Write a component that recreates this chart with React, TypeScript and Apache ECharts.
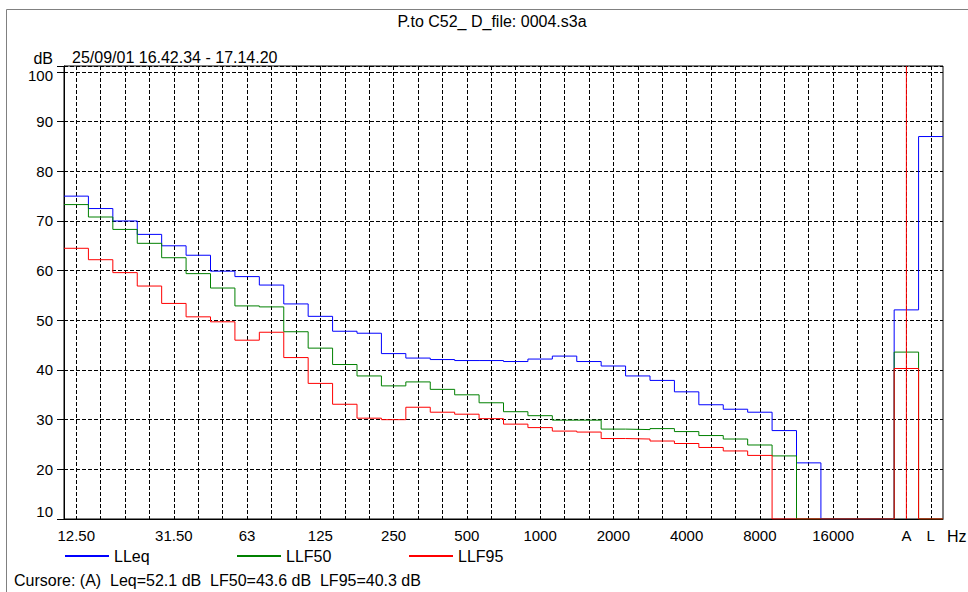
import React, { useEffect, useRef } from 'react';
import * as echarts from 'echarts';

// Third-octave bands (12.5 Hz .. 20 kHz), one empty slot, then A and L totals
const bands = ['12.5','16','20','25','31.5','40','50','63','80','100','125','160','200','250','315','400','500','630','800','1000','1250','1600','2000','2500','3150','4000','5000','6300','8000','10000','12500','16000','20000','','A','L'];
const tickLabels = ['12.50','','','','31.50','','','63','','','125','','','250','','','500','','','1000','','','2000','','','4000','','','8000','','','16000','','','A','L'];

// null = below the displayed range
const lleq = [75.0,72.5,70.0,67.3,65.0,63.1,59.9,58.8,57.1,53.3,50.8,47.8,47.4,43.3,42.4,42.1,41.9,41.9,41.7,42.2,42.8,41.7,40.8,38.8,37.9,35.6,33.0,32.1,31.5,27.8,21.3,null,null,null,52.1,87.0];
const llf50 = [73.3,70.8,68.3,65.5,62.6,59.4,56.5,52.9,52.7,47.7,44.4,41.1,38.8,36.8,37.6,36.1,35.0,33.4,31.6,30.8,29.9,29.9,28.1,28.0,28.2,27.6,26.8,26.1,24.9,22.7,null,null,null,null,43.6,null];
const llf95 = [64.5,62.2,59.6,56.9,53.4,50.7,49.7,46.0,47.6,42.5,37.3,33.1,30.3,30.0,32.5,31.5,31.1,30.2,29.1,28.4,27.7,27.5,26.2,26.1,25.7,25.2,24.4,23.7,22.8,null,null,null,null,null,40.3,null];

const cursorBand = 'A';
const titleText = 'P.to C52_ D_file: 0004.s3a';
const subtitleText = '25/09/01 16.42.34 - 17.14.20';
const cursorText = 'Cursore: (A)  Leq=52.1 dB  LF50=43.6 dB  LF95=40.3 dB';

const Y_MIN = 10;
const Y_MAX = 101.2;
const FONT = "'Liberation Sans', Arial, sans-serif";

function stepData(vals: (number | null)[]) {
  const pts: number[][] = vals.map((v, i) => [i, v == null ? Y_MIN : v]);
  const last = vals[vals.length - 1];
  pts.push([vals.length, last == null ? Y_MIN : last]);
  return pts;
}

export default function App() {
  const ref = useRef<HTMLDivElement>(null);
  useEffect(() => {
    if (!ref.current) return;
    const chart = echarts.init(ref.current, undefined, { renderer: 'svg' });
    const gridLine = { color: '#000', type: [4, 2] as any, width: 1 };
    const mkSeries = (name: string, vals: (number | null)[], color: string) => ({
      type: 'line',
      name,
      xAxisIndex: 1,
      yAxisIndex: 0,
      data: stepData(vals),
      step: 'end',
      symbol: 'none',
      clip: true,
      lineStyle: { color, width: 1 },
      itemStyle: { color },
    });
    const legendBase = {
      top: 548,
      padding: 0,
      itemWidth: 44,
      itemHeight: 16,
      itemStyle: { opacity: 0, borderWidth: 0 },
      textStyle: { fontSize: 16, color: '#000', fontFamily: FONT },
    };
    const cursorX = bands.indexOf(cursorBand) + 0.5;
    chart.setOption({
      animation: false,
      backgroundColor: '#fff',
      textStyle: { fontFamily: FONT },
      grid: {
        left: 64, right: 25, top: 66, bottom: 73,
        show: true, borderColor: '#000', borderWidth: 1,
        outerBoundsMode: 'none',
      },
      legend: [
        { ...legendBase, left: 64, data: ['LLeq'] },
        { ...legendBase, left: 236, data: ['LLF50'] },
        { ...legendBase, left: 408, data: ['LLF95'] },
      ],
      xAxis: [
        {
          type: 'category',
          position: 'bottom',
          data: bands,
          boundaryGap: true,
          axisLine: { onZero: false, lineStyle: { color: '#000', width: 1 } },
          axisTick: { show: false },
          splitLine: { show: false },
          axisLabel: {
            interval: 0,
            color: '#000',
            fontSize: 15,
            fontFamily: FONT,
            margin: 9,
            formatter: (_v: string, i: number) => tickLabels[i],
          },
        },
        {
          type: 'value',
          position: 'bottom',
          min: 0,
          max: bands.length,
          interval: 1,
          axisLine: { show: false, onZero: false },
          axisTick: { show: false },
          axisLabel: { show: false },
          splitLine: { show: false },
          minorTick: { show: false, splitNumber: 2 },
          minorSplitLine: { show: true, lineStyle: gridLine },
        },
      ],
      yAxis: {
        type: 'value',
        min: Y_MIN,
        max: Y_MAX,
        interval: 10,
        axisLine: { show: true, lineStyle: { color: '#000', width: 1 } },
        axisTick: { show: true, length: 7, lineStyle: { color: '#000' } },
        splitLine: { show: true, lineStyle: gridLine },
        axisLabel: {
          color: '#000',
          fontSize: 15,
          fontFamily: FONT,
          margin: 11,
          formatter: (v: number) => {
            if (Math.abs(v % 10) > 1e-6) return '';
            if (v === 10) return '{lo|10}';
            if (v === 100) return '{hi|100}';
            return String(v);
          },
          rich: {
            lo: { fontSize: 15, fontFamily: FONT, color: '#000', padding: [0, 0, 16, 0] },
            hi: { fontSize: 15, fontFamily: FONT, color: '#000', padding: [7, 0, 0, 0] },
          },
        },
      },
      series: [
        mkSeries('LLeq', lleq, '#0000ff'),
        mkSeries('LLF50', llf50, '#008000'),
        mkSeries('LLF95', llf95, '#ff0000'),
        {
          type: 'line',
          name: 'cursor',
          xAxisIndex: 1,
          yAxisIndex: 0,
          data: [[cursorX, Y_MIN], [cursorX, Y_MAX]],
          symbol: 'none',
          silent: true,
          lineStyle: { color: '#ff0000', width: 1 },
          itemStyle: { color: '#ff0000' },
        },
      ],
      graphic: [
        {
          type: 'rect',
          shape: { x: 6.5, y: 9.5, width: 1000, height: 600 },
          style: { fill: 'none', stroke: '#808080', lineWidth: 1 },
          silent: true,
        },
        {
          type: 'text', x: 492, y: 21,
          style: { text: titleText, fontSize: 16, fontFamily: FONT, fill: '#000', align: 'center', verticalAlign: 'middle' },
        },
        {
          type: 'text', x: 53, y: 58,
          style: { text: 'dB', fontSize: 16, fontFamily: FONT, fill: '#000', align: 'right', verticalAlign: 'middle' },
        },
        {
          type: 'text', x: 72, y: 57,
          style: { text: subtitleText, fontSize: 16, fontFamily: FONT, fill: '#000', align: 'left', verticalAlign: 'middle' },
        },
        {
          type: 'text', x: 947, y: 536,
          style: { text: 'Hz', fontSize: 16, fontFamily: FONT, fill: '#000', align: 'left', verticalAlign: 'middle' },
        },
        {
          type: 'text', x: 14, y: 580,
          style: { text: cursorText, fontSize: 16, fontFamily: FONT, fill: '#000', align: 'left', verticalAlign: 'middle' },
        },
      ],
    });
    return () => chart.dispose();
  }, []);
  return (
    <div
      ref={ref}
      style={{ position: 'absolute', left: 0, top: 0, width: 968, height: 592 }}
    />
  );
}
